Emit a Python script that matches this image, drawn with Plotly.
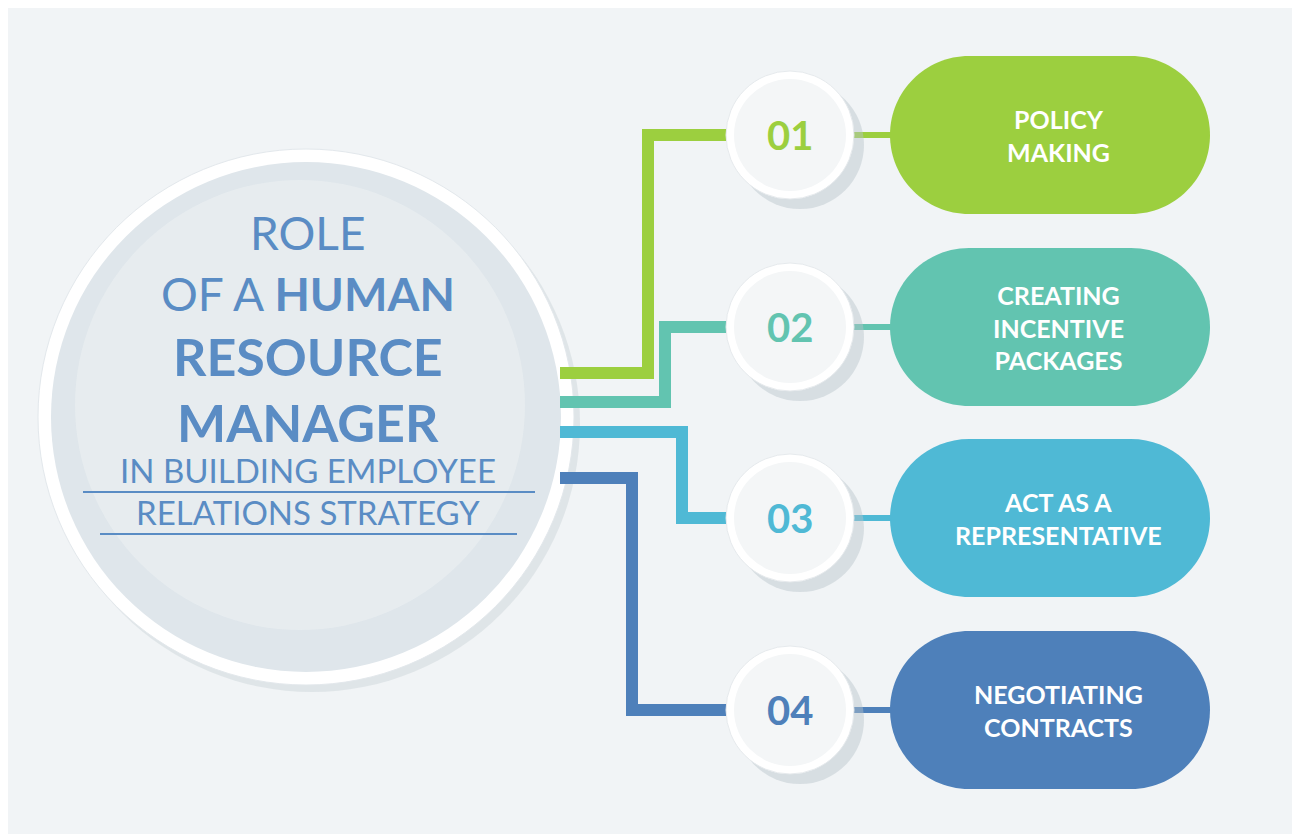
import plotly.graph_objects as go

numbers = ["01", "02", "03", "04"]
labels = ["POLICY<br>MAKING", "CREATING<br>INCENTIVE<br>PACKAGES",
          "ACT AS A<br>REPRESENTATIVE", "NEGOTIATING<br>CONTRACTS"]
colors = ["#9ccf3f", "#62c4b0", "#4fb9d5", "#4e80ba"]
row_y = [135, 327, 518, 710]
start_y = [373, 402, 432, 478]
bend_x = [648, 665, 682, 632]

title_blue = "#5a8cc4"
fig = go.Figure()
shapes = []

def circle(cx, cy, r, fill, line=None, opacity=1, lw=0):
    return dict(type="circle", xref="x", yref="y", x0=cx - r, x1=cx + r,
                y0=cy - r, y1=cy + r, fillcolor=fill, opacity=opacity,
                line=dict(color=line or fill, width=lw), layer="below")

def pill(x0, x1, yc, h):
    r = h / 2
    k = 0.5523 * r
    a, b = x0 + r, x1 - r
    t, btm = yc - r, yc + r
    return (f"M {a},{t} L {b},{t} "
            f"C {b + k},{t} {x1},{yc - k} {x1},{yc} "
            f"C {x1},{yc + k} {b + k},{btm} {b},{btm} "
            f"L {a},{btm} "
            f"C {a - k},{btm} {x0},{yc + k} {x0},{yc} "
            f"C {x0},{yc - k} {a - k},{t} {a},{t} Z")

# big circle
shapes.append(circle(312, 424, 268, "#c9d2d8", opacity=0.45))
shapes.append(circle(306, 417, 268, "#ffffff", line="#e3e8ec", lw=1))
shapes.append(circle(306, 417, 255, "#dfe6eb"))
shapes.append(circle(300, 405, 225, "#e8edf0", opacity=0.8))

for i in range(4):
    y = row_y[i]
    c = colors[i]
    path = f"M 560,{start_y[i]} L {bend_x[i]},{start_y[i]} L {bend_x[i]},{y} L 730,{y}"
    shapes.append(dict(type="path", path=path, xref="x", yref="y",
                       line=dict(color=c, width=12), layer="below"))
    shapes.append(dict(type="line", xref="x", yref="y", x0=850, x1=905, y0=y, y1=y,
                       line=dict(color=c, width=6), layer="below"))
    shapes.append(dict(type="path", path=pill(890, 1210, y, 158), xref="x", yref="y",
                       fillcolor=c, line=dict(width=0), layer="below"))
    shapes.append(circle(800, y + 10, 64, "#b9c3ca", opacity=0.45))
    shapes.append(circle(790, y, 64, "#ffffff", line="#e6eaed", lw=1))
    shapes.append(circle(790, y, 56, "#f4f6f7"))
    fig.add_annotation(x=790, y=y, text=f"<b>{numbers[i]}</b>", showarrow=False,
                       font=dict(size=40, color=c, family="Lato", weight=900))
    fig.add_annotation(x=1058, y=y, text=f"<b>{labels[i]}</b>", showarrow=False,
                       font=dict(size=25, color="white", family="Lato", weight=900))

title_lines = [("ROLE", 232, 46), ("OF A <b>HUMAN</b>", 293, 46),
               ("<b>RESOURCE</b>", 356, 52), ("<b>MANAGER</b>", 422, 52),
               ("IN BUILDING EMPLOYEE", 470, 33), ("RELATIONS STRATEGY", 512, 33)]
for txt, y, s in title_lines:
    fig.add_annotation(x=308, y=y, text=txt, showarrow=False,
                       font=dict(size=s, color=title_blue, family="Lato"))
shapes.append(dict(type="line", xref="x", yref="y", x0=83, x1=535, y0=492, y1=492,
                   line=dict(color=title_blue, width=2)))
shapes.append(dict(type="line", xref="x", yref="y", x0=100, x1=517, y0=534, y1=534,
                   line=dict(color=title_blue, width=2)))

# page body adds an 8px offset, so shift the view to compensate
fig.update_layout(
    width=1300, height=834, margin=dict(l=0, r=0, t=0, b=0),
    paper_bgcolor="#f1f4f6", plot_bgcolor="#f1f4f6", shapes=shapes,
    xaxis=dict(range=[8, 1308], visible=False, fixedrange=True),
    yaxis=dict(range=[842, 8], visible=False, fixedrange=True),
    showlegend=False,
)
fig.write_html("out.html")
